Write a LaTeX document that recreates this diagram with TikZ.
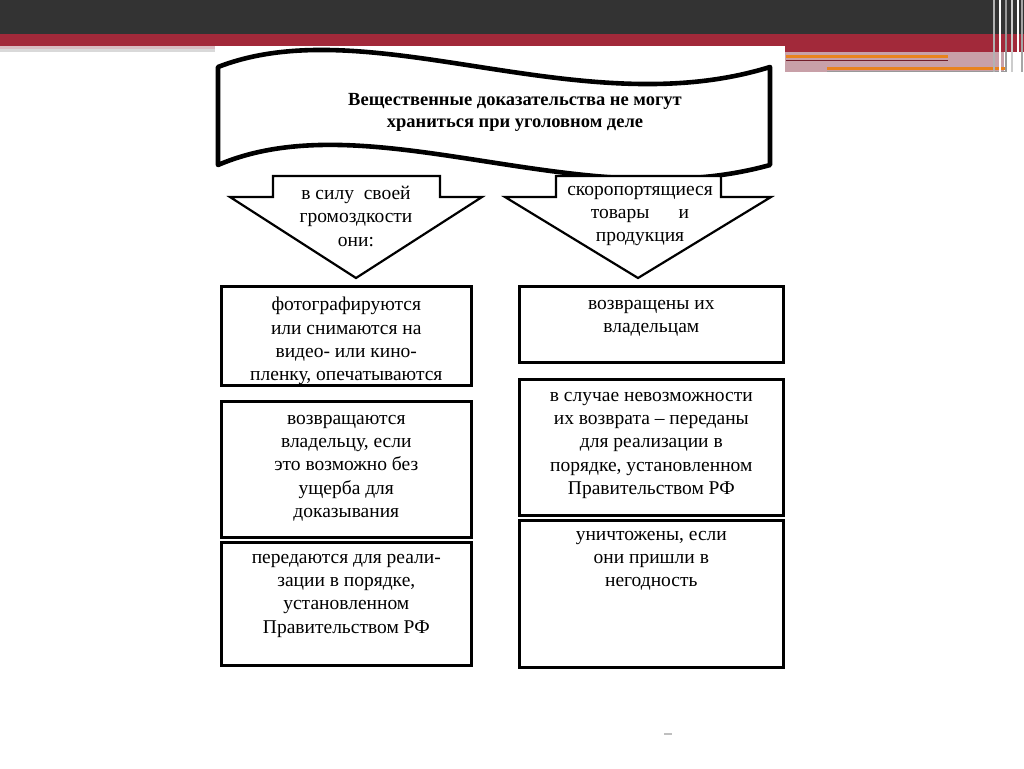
\documentclass[tikz,border=0pt]{standalone}
\usepackage{fontspec}
\setmainfont{Liberation Serif}
\usetikzlibrary{positioning}
\definecolor{hdrgray}{HTML}{333333}
\definecolor{hdrred}{HTML}{A2293A}
\definecolor{hdrpink}{HTML}{C8A0A8}
\definecolor{hdrorange}{HTML}{E8831E}
\begin{document}
\begin{tikzpicture}[x=1pt,y=-1pt,
	box/.style={draw,line width=2.6pt,anchor=north west,inner sep=0pt},
	boxtext/.style={align=center,inner sep=0pt,font=\fontsize{19.5}{23.3}\selectfont},
	bannertext/.style={align=center,inner sep=0pt,font=\bfseries\fontsize{18.5}{22}\selectfont},
	blockarrow/.style={draw,line width=2.2pt,line join=miter,fill=white}]
	\useasboundingbox (0,0) rectangle (1024,768);
	% slide header
	\fill[hdrgray] (0,0) rectangle (1024,34);
	\fill[hdrred] (0,34) rectangle (1024,46);
	\fill[hdrred] (785,46) rectangle (1024,52);
	\fill[black!15] (0,46) rectangle (215,52);
	\fill[hdrpink!70] (0,46) rectangle (215,49);
	\fill[hdrpink] (785,52) rectangle (1004,72);
	\draw[hdrorange,line width=3pt] (786,57) -- (948,57);
	\draw[hdrred!70!black,line width=1pt] (786,60) -- (948,60);
	\draw[hdrorange,line width=3pt] (827,68) -- (1005,68);
	\draw[black!40,line width=1pt] (827,71) -- (1005,71);
	\foreach \vx/\vc in {994/black!30,1000/white,1006/black!40,1012/black!20,1018/white,1022/black!35}
		\draw[\vc,line width=1.2pt] (\vx,0) -- (\vx,72);
	\fill[white] (215,46) rectangle (785,768);
	% banner
	\draw[line width=4.6pt,line join=round] (218,67) .. controls (370,8) and (580,126) .. (770,67)
		-- (770,165) .. controls (580,218) and (370,100) .. (218,165) -- cycle;
	\node[bannertext] (title) at (515,112.5) {Вещественные доказательства не могут\\храниться при уголовном деле};
	% block arrows
	\coordinate (tipL) at (356,278);
	\coordinate (tipR) at (638,278);
	\draw[blockarrow] (273,176) -- (440,176) -- (440,197) -- (482,197) -- (tipL) -- (230,197) -- (273,197) -- cycle;
	\draw[blockarrow] (556,176) -- (721,176) -- (721,197) -- (771,197) -- (tipR) -- (505,197) -- (556,197) -- cycle;
	\node[boxtext,anchor=north] (reason) at (356,186) {в силу\enspace своей\\громоздкости\\они:};
	\node[boxtext,anchor=north] (goods) at (640,186) {скоропортящиеся\\товары\quad\enspace и\\продукция};
	% left column
	\node[box,minimum width=250,minimum height=99] (photo) at (220,285) {};
	\node[box,minimum width=250,minimum height=136] (owner) at (220,400) {};
	\node[box,minimum width=250,minimum height=123] (sale) at (220,541) {};
	\node[boxtext,below=12pt of photo.north] (photot) {фотографируются\\или снимаются на\\видео- или кино-\\пленку, опечатываются};
	\node[boxtext,below=15pt of owner.north] (ownert) {возвращаются\\владельцу, если\\это возможно без\\ущерба для\\доказывания};
	\node[boxtext,below=13pt of sale.north] (salet) {передаются для реали-\\зации в порядке,\\установленном\\Правительством РФ};
	% right column
	\node[box,minimum width=264,minimum height=76] (back) at (518,285) {};
	\node[box,minimum width=264,minimum height=136] (sold) at (518,378) {};
	\node[box,minimum width=264,minimum height=147] (gone) at (518,519) {};
	\node[boxtext,below=15pt of back.north] (backt) {возвращены их\\владельцам};
	\node[boxtext,below=14pt of sold.north] (soldt) {в случае невозможности\\их возврата – переданы\\для реализации в\\порядке, установленном\\Правительством РФ};
	\node[boxtext,below=12pt of gone.north] (gonet) {уничтожены, если\\они пришли в\\негодность};
	\draw[black!25,line width=1.5pt] (664,734) -- (672,734);
\end{tikzpicture}
\end{document}
